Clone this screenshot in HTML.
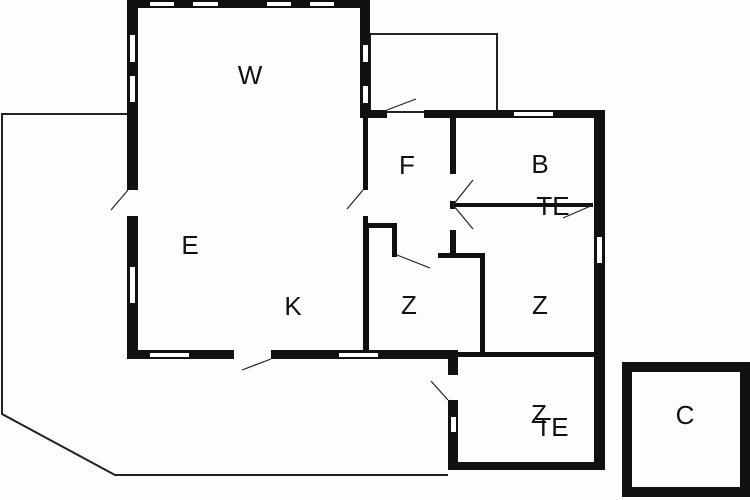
<!DOCTYPE html>
<html><head><style>html,body{margin:0;padding:0;background:#fff}svg{display:block}
text{font-family:"Liberation Sans",sans-serif;font-size:26px;fill:#111;text-anchor:middle}</style></head>
<body>
<svg width="750" height="500" viewBox="0 0 750 500" xmlns="http://www.w3.org/2000/svg">
<rect width="750" height="500" fill="#fdfdfc"/>
<!-- outer terrace outline -->
<polyline points="127,114 2,114 2,414 115,475 448,475" fill="none" stroke="#222" stroke-width="2"/>
<rect x="370" y="34" width="127" height="78" fill="none" stroke="#222" stroke-width="2"/>
<g fill="#111">
<!-- main building -->
<rect x="127" y="0" width="243" height="8"/>
<rect x="127" y="0" width="11" height="190"/>
<rect x="127" y="216" width="11" height="143"/>
<rect x="360" y="0" width="10" height="118"/>
<rect x="363" y="118" width="5" height="72"/>
<rect x="363" y="216" width="5" height="140"/>
<rect x="127" y="350" width="107" height="9"/>
<rect x="271" y="350" width="187" height="9"/>
<!-- top wall of right wing -->
<rect x="360" y="110" width="27" height="8"/>
<rect x="424" y="110" width="181" height="8"/>
<rect x="594" y="110" width="11" height="360"/>
<!-- F/B wall -->
<rect x="450" y="118" width="6" height="56"/>
<rect x="450" y="230" width="6" height="25"/>
<rect x="450" y="201" width="5" height="8"/>
<rect x="452" y="203" width="141" height="4"/>
<!-- Z step walls -->
<rect x="365" y="223" width="4" height="130"/>
<rect x="365" y="223" width="31" height="5"/>
<rect x="392" y="223" width="5" height="34"/>
<rect x="438" y="253" width="47" height="5"/>
<rect x="480" y="253" width="5" height="100"/>
<rect x="368" y="352" width="227" height="5"/>
<!-- lower room -->
<rect x="448" y="353" width="10" height="22"/>
<rect x="448" y="400" width="10" height="70"/>
<rect x="448" y="462" width="157" height="8"/>
<!-- C -->
<rect x="622" y="362" width="128" height="135"/>
</g>
<rect x="632" y="372" width="108" height="115" fill="#fdfdfc"/>
<!-- windows -->
<g fill="#fff">
<rect x="150" y="2" width="24" height="4"/><rect x="193" y="2" width="25" height="4"/>
<rect x="267" y="2" width="24" height="4"/><rect x="310" y="2" width="24" height="4"/>
<rect x="130" y="35" width="5" height="27"/><rect x="130" y="76" width="5" height="26"/>
<rect x="130" y="267" width="5" height="36"/>
<rect x="363" y="45" width="5" height="17"/><rect x="363" y="86" width="5" height="17"/>
<rect x="150" y="353" width="39" height="4"/><rect x="339" y="353" width="39" height="4"/>
<rect x="514" y="112" width="39" height="4"/>
<rect x="597" y="237" width="5" height="26"/>
<rect x="451" y="417" width="5" height="15"/>
</g>
<!-- door leaves -->
<g stroke="#222" stroke-width="1.2" fill="none">
<line x1="128" y1="190" x2="111" y2="210"/>
<line x1="363" y1="190" x2="347" y2="209"/>
<line x1="387" y1="110" x2="416" y2="99"/>
<line x1="453" y1="205" x2="473" y2="180"/>
<line x1="453" y1="205" x2="473" y2="229"/>
<line x1="563" y1="218" x2="593" y2="205"/>
<line x1="397" y1="255" x2="430" y2="268"/>
<line x1="271" y1="359" x2="242" y2="370"/>
<line x1="448" y1="400" x2="431" y2="381"/>
</g>
<text x="250" y="84">W</text>
<text x="407" y="174">F</text>
<text x="540" y="173">B</text>
<text x="553" y="215">TE</text>
<text x="190" y="254">E</text>
<text x="293" y="315">K</text>
<text x="409" y="314">Z</text>
<text x="540" y="314">Z</text>
<text x="539" y="423">Z</text>
<text x="552" y="436">TE</text>
<text x="685" y="424">C</text>
</svg>
</body></html>
